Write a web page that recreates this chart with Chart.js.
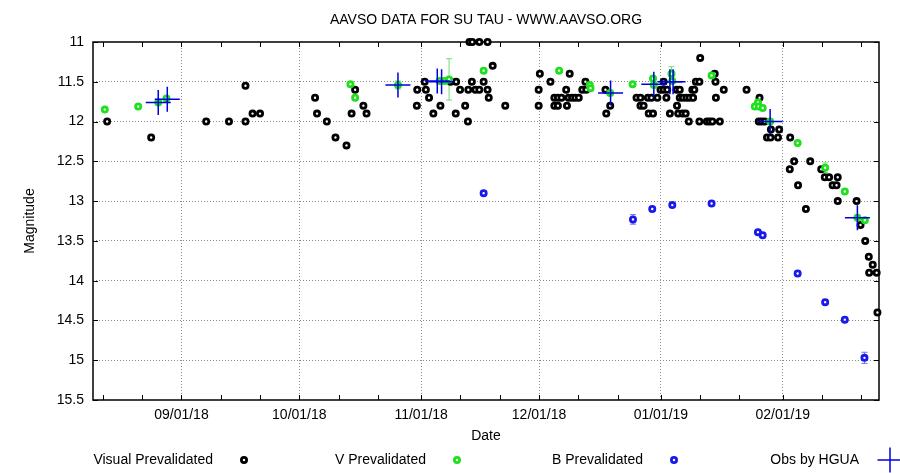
<!DOCTYPE html>
<html>
<head>
<meta charset="utf-8">
<title>AAVSO SU Tau</title>
<script src="https://cdn.jsdelivr.net/npm/chart.js@4.4.1/dist/chart.umd.min.js"></script>
<style>
  html, body { margin: 0; padding: 0; background: #fff; }
  canvas { display: block; }
</style>
</head>
<body>
<canvas id="myChart" width="900" height="473"></canvas>
<script>
// x = JD - 2458000, y = magnitude
const visualJD = [
  343.6, 354.8, 368.8, 374.6, 378.8, 378.8, 380.6, 382.5,
  396.5, 397.0, 399.5, 401.7, 404.5, 405.8, 406.7, 408.8, 409.6,
  422.4, 422.5, 424.4, 424.7, 425.5, 426.6, 428.4, 431.0, 432.3, 432.4, 433.4, 434.7,
  435.4, 435.5, 435.8, 436.4, 436.5, 437.3, 438.3, 438.3, 439.4, 440.4, 440.4, 440.7, 441.7,
  444.9, 453.4, 453.4, 453.7, 456.4, 457.4, 457.4, 458.3, 458.3, 459.2, 460.4, 460.6,
  461.0, 461.3, 461.9, 462.7, 463.6, 464.5, 465.3, 465.5,
  470.4, 470.6, 471.6, 478.3, 479.3, 479.3, 480.1, 481.2, 481.4, 482.1, 482.5, 483.6,
  484.4, 485.2, 485.2, 485.9, 486.1, 486.8, 488.5, 488.6, 488.9, 489.3, 489.3, 490.0,
  490.1, 490.8, 491.0, 491.6, 491.8, 492.5, 492.7, 493.0, 493.4, 494.3, 494.3, 494.5,
  496.2, 496.9, 497.6, 498.2, 498.4, 498.5, 499.5, 500.5, 506.3, 509.4, 509.6, 510.1,
  510.9, 511.5, 512.4, 512.5, 514.3, 514.6, 517.3, 517.4, 518.4, 519.4, 521.4, 522.5,
  525.3, 526.2, 527.3, 528.2, 529.2, 529.5, 529.5, 534.3, 535.3, 536.5, 537.4, 537.5,
  538.4, 539.4, 539.6
];
const visualMag = [
  12.0, 12.2, 12.0, 12.0, 12.0, 11.55, 11.9, 11.9,
  11.7, 11.9, 12.0, 12.2, 12.3, 11.9, 11.6, 11.8, 11.9,
  11.8, 11.6, 11.5, 11.6, 11.7, 11.9, 11.8, 11.5, 11.9, 11.5, 11.6, 11.8,
  12.0, 11.6, 11.0, 11.5, 11.0, 11.6, 11.6, 11.0, 11.5, 11.6, 11.0, 11.7, 11.3,
  11.8, 11.8, 11.6, 11.4, 11.5, 11.7, 11.8, 11.7, 11.8, 11.7, 11.6, 11.8,
  11.7, 11.4, 11.7, 11.7, 11.7, 11.6, 11.5, 11.6,
  11.6, 11.9, 11.8, 11.7, 11.7, 11.8, 11.8, 11.7, 11.9, 11.7, 11.9, 11.7,
  11.6, 11.6, 11.5, 11.7, 11.6, 11.9, 11.6, 11.8, 11.9, 11.6, 11.7, 11.9,
  11.7, 11.9, 11.7, 12.0, 11.7, 11.6, 11.7, 11.6, 11.5, 11.5, 12.0, 11.2,
  12.0, 12.0, 12.0, 11.4, 11.5, 11.7, 12.0, 11.6, 11.6, 12.0, 11.7, 12.0,
  12.0, 12.2, 12.2, 12.1, 12.2, 12.1, 12.6, 12.2, 12.5, 12.8, 13.1, 12.5,
  12.6, 12.7, 12.7, 12.8, 12.8, 12.7, 13.0, 13.0, 13.3, 13.5, 13.7, 13.9,
  13.8, 13.9, 14.4
];

const vJD = [
  343.0, 351.5, 356.6, 358.7, 405.5, 406.7, 417.6, 428.2, 429.5, 430.6, 439.4,
  458.6, 466.4, 466.6, 471.6, 477.3, 482.5, 482.7, 487.2, 487.4, 497.4,
  508.4, 509.2, 509.4, 510.4, 512.3, 519.3, 526.3, 531.3, 534.5, 536.4
];
const vMag = [
  11.85, 11.81, 11.76, 11.71, 11.53, 11.70, 11.54, 11.49, 11.49, 11.47, 11.36,
  11.36, 11.54, 11.58, 11.64, 11.53, 11.46, 11.54, 11.40, 11.49, 11.42,
  11.81, 11.76, 11.81, 11.83, 12.00, 12.27, 12.58, 12.88, 13.21, 13.24
];
const vErr = [
  0.02, 0.02, 0.02, 0.02, 0.02, 0.02, 0.05, 0.02, 0.02, 0.26, 0.02,
  0.02, 0.02, 0.02, 0.02, 0.02, 0.02, 0.02, 0.09, 0.02, 0.02,
  0.02, 0.02, 0.02, 0.02, 0.02, 0.02, 0.06, 0.02, 0.02, 0.02
];

const bJD = [439.4, 477.4, 482.3, 487.4, 497.4, 509.2, 510.4, 519.3, 526.3, 531.3, 536.3];
const bMag = [12.90, 13.23, 13.10, 13.05, 13.03, 13.39, 13.43, 13.91, 14.27, 14.49, 14.97];
const bErr = [0.03, 0.06, 0.03, 0.03, 0.03, 0.03, 0.03, 0.03, 0.03, 0.03, 0.07];

const hguaJD = [356.6, 358.9, 417.6, 427.6, 428.7, 471.7, 482.7, 486.8, 487.6, 512.3, 534.5];
const hguaMag = [11.76, 11.72, 11.54, 11.49, 11.50, 11.64, 11.53, 11.50, 11.50, 12.00, 13.21];

// month starts (labelled) and in-between ticks
const tickJD = [362.5, 392.5, 423.5, 453.5, 484.5, 515.5];
const tickLabels = ['09/01/18', '10/01/18', '11/01/18', '12/01/18', '01/01/19', '02/01/19'];
const minorJD = [342.5, 352.5, 372.5, 382.5, 402.5, 412.5, 433.5, 443.5,
                 463.5, 473.5, 494.5, 504.5, 525.5, 535.5];

const FONT = "'Liberation Sans', Arial, sans-serif";
const GRID = '#8a8a8a';
const NONE = 'rgba(0,0,0,0)';

function pts(xs, ys) {
  return xs.map((x, i) => ({x: x, y: ys[i]}));
}

// error bars under the points
const errorBars = {
  id: 'errorBars',
  beforeDatasetsDraw(chart) {
    const ctx = chart.ctx;
    const yScale = chart.scales.y;
    chart.data.datasets.forEach((ds, i) => {
      if (!ds.errors) return;
      const meta = chart.getDatasetMeta(i);
      ctx.save();
      ctx.strokeStyle = ds.errorColor;
      ctx.lineWidth = 1;
      ctx.beginPath();
      meta.data.forEach((p, j) => {
        const m = ds.data[j].y, e = ds.errors[j];
        const y1 = yScale.getPixelForValue(m - e);
        const y2 = yScale.getPixelForValue(m + e);
        ctx.moveTo(p.x, y1); ctx.lineTo(p.x, y2);
        ctx.moveTo(p.x - 3, y1); ctx.lineTo(p.x + 3, y1);
        ctx.moveTo(p.x - 3, y2); ctx.lineTo(p.x + 3, y2);
      });
      ctx.stroke();
      ctx.restore();
    });
  }
};

// gnuplot style frame, inward ticks and title
const frame = {
  id: 'frame',
  beforeDatasetsDraw(chart) {
    const {ctx, chartArea: a, scales: {x, y}} = chart;
    ctx.save();
    ctx.strokeStyle = '#000';
    ctx.lineWidth = 1;
    ctx.beginPath();
    x.ticks.forEach(t => {
      const px = Math.round(x.getPixelForValue(t.value)) + 0.5;
      ctx.moveTo(px, a.bottom); ctx.lineTo(px, a.bottom - 5);
      ctx.moveTo(px, a.top); ctx.lineTo(px, a.top + 5);
    });
    y.ticks.forEach(t => {
      const py = Math.round(y.getPixelForValue(t.value)) + 0.5;
      ctx.moveTo(a.left, py); ctx.lineTo(a.left + 5, py);
      ctx.moveTo(a.right, py); ctx.lineTo(a.right - 5, py);
    });
    ctx.stroke();
    ctx.lineWidth = 1.5;
    ctx.strokeRect(a.left, a.top, a.right - a.left, a.bottom - a.top);
    ctx.restore();
  },
  afterDraw(chart, args, opts) {
    const {ctx, chartArea: a} = chart;
    ctx.save();
    ctx.font = '14px ' + FONT;
    ctx.fillStyle = '#000';
    ctx.textAlign = 'center';
    ctx.textBaseline = 'middle';
    ctx.fillText(opts.title, (a.left + a.right) / 2, 20);
    ctx.restore();
  }
};

// key along the bottom: text, then the sample
const bottomKey = {
  id: 'bottomKey',
  afterDraw(chart, args, opts) {
    const ctx = chart.ctx;
    ctx.save();
    ctx.font = '14px ' + FONT;
    ctx.textAlign = 'right';
    ctx.textBaseline = 'middle';
    chart.data.datasets.forEach((ds, i) => {
      const mx = opts.markerX[i], my = opts.y;
      ctx.fillStyle = '#000';
      ctx.fillText(ds.label, mx - 31, my);
      ctx.strokeStyle = ds.borderColor;
      ctx.lineWidth = ds.borderWidth;
      ctx.beginPath();
      if (ds.pointStyle === 'cross') {
        const r = ds.pointRadius;
        ctx.moveTo(mx - r, my); ctx.lineTo(mx + r, my);
        ctx.moveTo(mx, my - r); ctx.lineTo(mx, my + r);
        ctx.stroke();
      } else {
        ctx.fillStyle = ds.backgroundColor;
        ctx.arc(mx, my, ds.pointRadius, 0, Math.PI * 2);
        ctx.fill();
        ctx.stroke();
      }
    });
    ctx.restore();
  }
};

Chart.defaults.font.family = FONT;
Chart.defaults.font.size = 14;
Chart.defaults.color = '#000';

const config = {
  type: 'scatter',
  data: {
    datasets: [
      {
        label: 'Visual Prevalidated',
        data: pts(visualJD, visualMag),
        pointStyle: 'circle', pointRadius: 2.6, borderWidth: 2.8,
        borderColor: '#000', backgroundColor: '#fff',
        order: 4, clip: false
      },
      {
        label: 'V Prevalidated',
        data: pts(vJD, vMag),
        errors: vErr, errorColor: 'rgb(110,225,110)',
        pointStyle: 'circle', pointRadius: 2.6, borderWidth: 2.8,
        borderColor: 'rgb(30,225,30)', backgroundColor: '#fff',
        order: 3, clip: false
      },
      {
        label: 'B Prevalidated',
        data: pts(bJD, bMag),
        errors: bErr, errorColor: 'rgb(110,110,240)',
        pointStyle: 'circle', pointRadius: 2.6, borderWidth: 2.8,
        borderColor: 'rgb(25,25,235)', backgroundColor: '#fff',
        order: 2, clip: false
      },
      {
        label: 'Obs by HGUA',
        data: pts(hguaJD, hguaMag),
        pointStyle: 'cross', pointRadius: 12.5, borderWidth: 1.5,
        borderColor: 'rgb(0,0,225)', backgroundColor: 'rgb(0,0,225)',
        order: 1, clip: false
      }
    ]
  },
  options: {
    responsive: false,
    animation: false,
    events: [],
    layout: { padding: { top: 42, right: 21, bottom: 0, left: 0 } },
    scales: {
      x: {
        type: 'linear', min: 340, max: 540,
        afterBuildTicks(scale) {
          scale.ticks = tickJD.concat(minorJD).sort((a, b) => a - b).map(v => ({value: v}));
        },
        afterFit(scale) { scale.height = 73; },
        ticks: {
          autoSkip: false, maxRotation: 0, padding: 7,
          callback: v => {
            const k = tickJD.indexOf(v);
            return k >= 0 ? tickLabels[k] : '';
          }
        },
        grid: {
          drawTicks: false, lineWidth: 1,
          color: c => (c.tick && tickJD.includes(c.tick.value)) ? GRID : NONE
        },
        border: { display: false, dash: [1, 2] },
        title: { display: true, text: 'Date', padding: { top: 0, bottom: 28.6 } }
      },
      y: {
        type: 'linear', reverse: true, min: 11, max: 15.5,
        afterFit(scale) { scale.width = 93; },
        ticks: { stepSize: 0.5, padding: 9, callback: v => String(v) },
        grid: {
          drawTicks: false, lineWidth: 1,
          color: c => (c.tick && (c.tick.value === 11 || c.tick.value === 15.5)) ? NONE : GRID
        },
        border: { display: false, dash: [1, 2] },
        title: { display: true, text: 'Magnitude', padding: { top: 21.6, bottom: 0 } }
      }
    },
    plugins: {
      legend: { display: false },
      tooltip: { enabled: false },
      frame: { title: 'AAVSO DATA FOR SU TAU - WWW.AAVSO.ORG' },
      bottomKey: { markerX: [244, 457, 674, 890], y: 460 }
    }
  },
  plugins: [errorBars, frame, bottomKey]
};

window.addEventListener('load', function() {
  const ctx = document.getElementById('myChart').getContext('2d');
  new Chart(ctx, config);
}, false);
</script>
</body>
</html>
